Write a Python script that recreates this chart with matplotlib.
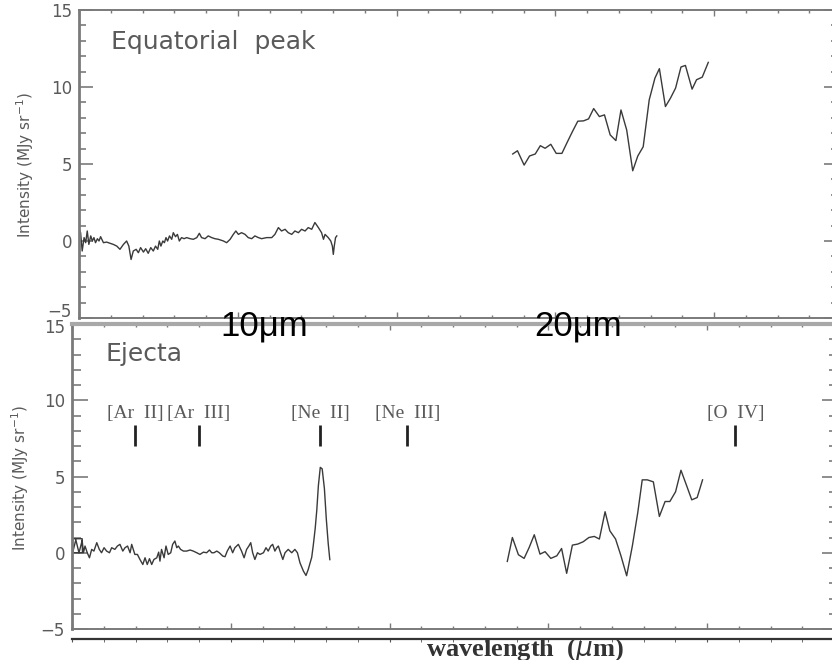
import matplotlib
matplotlib.use("Agg")
import matplotlib.pyplot as plt
from matplotlib.ticker import MultipleLocator

# ---------------- data ----------------
# Equatorial peak: short-wavelength module (um, MJy/sr)
eq_short_wave = [5.00, 5.05, 5.10, 5.16, 5.21, 5.26, 5.31, 5.37, 5.42, 5.47, 5.52, 5.58, 5.63, 5.68,
                 5.77, 5.87, 5.98, 6.08, 6.19, 6.29, 6.40, 6.50, 6.57, 6.64, 6.71, 6.80, 6.87, 6.94,
                 7.03, 7.10, 7.18, 7.26, 7.34, 7.41, 7.48, 7.53, 7.58, 7.64, 7.69, 7.74, 7.79, 7.85,
                 7.92, 7.97, 8.04, 8.10, 8.16, 8.23, 8.31, 8.39, 8.50, 8.60, 8.71, 8.79, 8.86, 8.97,
                 9.07, 9.18, 9.28, 9.39, 9.55, 9.65, 9.76, 9.86, 9.94, 10.02, 10.12, 10.23, 10.33,
                 10.44, 10.54, 10.65, 10.75, 10.91, 11.07, 11.17, 11.28, 11.38, 11.49, 11.59, 11.70,
                 11.80, 11.91, 12.01, 12.12, 12.22, 12.33, 12.43, 12.54, 12.64, 12.70, 12.75, 12.85,
                 12.93, 12.98, 13.01, 13.04, 13.08, 13.12]
eq_short_flux = [0.80, 0.54, -0.65, 0.22, -0.11, 0.65, -0.22, 0.33, 0.00, 0.22, -0.11, 0.15, 0.00, 0.28,
                 -0.11, -0.07, -0.15, -0.22, -0.33, -0.54, -0.22, 0.00, -0.33, -1.20, -0.65, -0.54, -0.76,
                 -0.43, -0.72, -0.50, -0.80, -0.43, -0.65, -0.33, -0.54, 0.00, -0.33, 0.00, -0.11, 0.22,
                 0.00, 0.33, 0.11, 0.54, 0.28, 0.43, 0.00, 0.22, 0.15, 0.22, 0.15, 0.11, 0.22, 0.50, 0.22,
                 0.15, 0.33, 0.22, 0.15, 0.11, 0.00, -0.11, 0.11, 0.43, 0.65, 0.43, 0.54, 0.43, 0.22,
                 0.15, 0.33, 0.22, 0.15, 0.22, 0.22, 0.43, 0.87, 0.65, 0.76, 0.54, 0.43, 0.65, 0.54,
                 0.76, 0.65, 0.87, 0.76, 1.20, 0.87, 0.54, 0.11, 0.43, 0.22, 0.00, -0.33, -0.87, -0.33,
                 0.22, 0.33]

# Equatorial peak: long-wavelength module
eq_long_wave = [18.66, 18.81, 19.02, 19.19, 19.37, 19.53, 19.68, 19.86, 20.03, 20.21, 20.36, 20.54,
                20.71, 20.89, 21.05, 21.21, 21.39, 21.55, 21.73, 21.91, 22.07, 22.25, 22.44, 22.60,
                22.77, 22.96, 23.14, 23.28, 23.47, 23.63, 23.79, 23.96, 24.10, 24.31, 24.45, 24.63,
                24.82]
eq_long_flux = [5.65, 5.86, 4.93, 5.52, 5.65, 6.19, 6.02, 6.28, 5.69, 5.69, 6.34, 7.10, 7.78, 7.80,
                7.93, 8.60, 8.08, 8.19, 6.89, 6.52, 8.51, 7.21, 4.56, 5.52, 6.12, 9.17, 10.58, 11.19,
                8.73, 9.28, 9.93, 11.30, 11.40, 9.86, 10.47, 10.64, 11.60]

# Ejecta: short-wavelength module
ej_short_wave = [5.02, 5.02, 5.32, 5.33, 5.02, 5.12, 5.22, 5.32, 5.36, 5.41, 5.48, 5.55, 5.62, 5.69,
                 5.78, 5.86, 5.93, 6.01, 6.09, 6.18, 6.25, 6.35, 6.43, 6.51, 6.60, 6.67, 6.75, 6.83,
                 6.88, 6.93, 6.98, 7.06, 7.14, 7.23, 7.30, 7.37, 7.44, 7.51, 7.58, 7.67, 7.73, 7.77,
                 7.82, 7.90, 7.96, 8.03, 8.11, 8.17, 8.24, 8.30, 8.35, 8.42, 8.51, 8.61, 8.72, 8.82,
                 8.93, 9.03, 9.14, 9.24, 9.33, 9.40, 9.47, 9.56, 9.64, 9.75, 9.82, 9.89, 9.98, 10.06,
                 10.13, 10.24, 10.34, 10.42, 10.50, 10.57, 10.63, 10.69, 10.76, 10.84, 10.92, 11.03,
                 11.11, 11.18, 11.26, 11.32, 11.39, 11.45, 11.50, 11.55, 11.64, 11.71, 11.81, 11.92,
                 12.02, 12.10, 12.18, 12.29, 12.37, 12.44, 12.55, 12.60, 12.66, 12.71, 12.76, 12.82,
                 12.88, 12.95, 13.01, 13.07, 13.12]
ej_short_flux = [0.00, 0.92, 0.92, 0.00, 0.00, 0.85, 0.00, 0.80, 0.00, 0.44, 0.00, -0.33, 0.22, 0.11,
                 0.66, 0.22, 0.00, 0.33, 0.11, 0.00, 0.33, 0.22, 0.44, 0.55, 0.11, 0.33, 0.44, 0.00,
                 0.55, 0.22, -0.11, -0.11, -0.44, -0.77, -0.33, -0.77, -0.39, -0.77, -0.44, -0.33, 0.04,
                 -0.55, 0.22, -0.33, 0.44, -0.11, 0.00, 0.55, 0.77, 0.33, 0.44, 0.22, 0.11, 0.11, 0.18,
                 0.11, 0.00, -0.11, 0.04, 0.00, 0.18, 0.00, 0.00, 0.11, 0.00, -0.22, -0.26, 0.11, 0.44,
                 0.00, 0.33, 0.55, 0.11, -0.33, 0.22, 0.44, 0.66, 0.00, -0.44, 0.00, -0.11, 0.00, 0.33,
                 0.11, 0.44, 0.55, 0.11, 0.33, 0.44, 0.11, -0.44, 0.00, 0.22, 0.00, 0.22, 0.00, -0.66,
                 -1.21, -1.49, -1.10, -0.30, 0.50, 1.60, 2.80, 4.40, 5.60, 5.50, 4.20, 2.20, 0.60,
                 -0.45]

# Ejecta: long-wavelength module
ej_long_wave = [18.71, 18.87, 19.06, 19.24, 19.40, 19.56, 19.74, 19.90, 20.08, 20.27, 20.42, 20.58,
                20.76, 20.93, 21.10, 21.28, 21.45, 21.61, 21.79, 21.94, 22.12, 22.29, 22.47, 22.65,
                22.82, 22.96, 23.12, 23.31, 23.50, 23.68, 23.83, 24.01, 24.18, 24.36, 24.52, 24.69,
                24.86]
ej_long_flux = [-0.57, 1.00, -0.13, -0.37, 0.35, 1.18, -0.09, 0.07, -0.37, -0.20, 0.28, -1.35, 0.50,
                0.57, 0.72, 1.00, 1.07, 0.90, 2.69, 1.44, 0.90, -0.20, -1.51, 0.46, 2.64, 4.78, 4.78,
                4.65, 2.38, 3.36, 3.36, 4.00, 5.41, 4.39, 3.47, 3.62, 4.78]

# Fine-structure lines marked on the ejecta spectrum
line_names = ["[Ar  II]", "[Ar  III]", "[Ne  II]", "[Ne  III]", "[O  IV]"]
line_waves = [6.99, 8.99, 12.81, 15.56, 25.89]

y_ticks = [-5, 0, 5, 10, 15]
top_tick_labels = ["", "0", "5", "10", "15"]
bottom_tick_labels = ["\u22125", "0", "5", "10", ""]

# ---------------- figure ----------------
W, H = 832, 660
fig = plt.figure(figsize=(W / 100, H / 100), dpi=100)

PX_PER_UM = 31.75
SPINE = "#7a7a7a"
TXT = "#5a5a5a"
DATA = "#3a3a3a"


def add_px_axes(left, right, top, bottom):
    return fig.add_axes([left / W, 1 - bottom / H, (right - left) / W, (bottom - top) / H])


def style_panel(ax, left, right, labels, ymaj, ymin, rmaj, rmin):
    ax.set_xlim(5, 5 + (right - left) / PX_PER_UM)
    ax.set_ylim(-5, 15)
    ax.xaxis.set_major_locator(MultipleLocator(5))
    ax.xaxis.set_minor_locator(MultipleLocator(1))
    ax.set_yticks(y_ticks)
    ax.set_yticklabels(labels)
    ax.yaxis.set_minor_locator(MultipleLocator(1))
    ax.tick_params(axis="x", which="both", top=True, bottom=True, direction="in",
                   labelbottom=False, color=SPINE, width=1)
    ax.tick_params(axis="x", which="major", length=4.5)
    ax.tick_params(axis="x", which="minor", length=2.2)
    ax.tick_params(axis="y", which="both", left=True, right=False, direction="in",
                   color=SPINE, width=1.2, labelsize=12, labelcolor=TXT, pad=5)
    ax.tick_params(axis="y", which="major", length=ymaj)
    ax.tick_params(axis="y", which="minor", length=ymin)
    for s in ax.spines.values():
        s.set_color(SPINE)
        s.set_linewidth(1.4)
    ax.spines["left"].set_linewidth(2.0)
    sec = ax.secondary_yaxis("right")
    sec.set_yticks(y_ticks)
    sec.yaxis.set_minor_locator(MultipleLocator(1))
    sec.tick_params(axis="y", which="both", direction="in", labelright=False,
                    color=SPINE, width=1.2)
    sec.tick_params(axis="y", which="major", length=rmaj)
    sec.tick_params(axis="y", which="minor", length=rmin)
    sec.spines["right"].set_color(SPINE)


# Upper panel: equatorial peak
ax1 = add_px_axes(79, 834, 10, 318)
style_panel(ax1, 79, 834, top_tick_labels, 10, 5, 7, 2.5)
ax1.plot(eq_short_wave, eq_short_flux, color=DATA, lw=1.0)
ax1.plot(eq_long_wave, eq_long_flux, color=DATA, lw=1.0)
ax1.text(6.0, 12.9, "Equatorial  peak", fontsize=18, color=TXT, va="center", ha="left")

# Lower panel: ejecta
ax2 = add_px_axes(72, 833, 324, 629)
style_panel(ax2, 72, 833, bottom_tick_labels, 11.5, 6.5, 8, 3)
ax2.spines["top"].set_color("#a8a8a8")
ax2.spines["top"].set_linewidth(3.0)
ax2.patch.set_alpha(0)
ax2.plot(ej_short_wave, ej_short_flux, color=DATA, lw=1.0)
ax2.plot(ej_long_wave, ej_long_flux, color=DATA, lw=1.0)
ax2.text(6.04, 13.0, "Ejecta", fontsize=18, color=TXT, va="center", ha="left")
ax2.vlines(line_waves, 7.0, 8.4, color="#222222", lw=2.0)
for name, wl in zip(line_names, line_waves):
    ax2.text(wl, 9.15, name, fontsize=14, family="Liberation Serif", color=TXT,
             ha="center", va="center")

# Edge tick labels where the two panels meet
fig.text(72 / W, 1 - 312 / H, "\u22125", fontsize=12, color=TXT, ha="right", va="center")
fig.text(65 / W, 1 - 328 / H, "15", fontsize=12, color=TXT, ha="right", va="center")

fig.text(25 / W, 1 - 165 / H, "Intensity (MJy sr$^{-1}$)", rotation=90, fontsize=11,
         color=TXT, ha="center", va="center")
fig.text(20 / W, 1 - 478 / H, "Intensity (MJy sr$^{-1}$)", rotation=90, fontsize=11,
         color=TXT, ha="center", va="center")

# Partial axis frame of the panel below
ax3 = add_px_axes(72, 833, 639, 720)
ax3.set_xlim(5, 5 + (833 - 72) / PX_PER_UM)
ax3.xaxis.set_major_locator(MultipleLocator(5))
ax3.xaxis.set_minor_locator(MultipleLocator(1))
ax3.set_yticks([])
for side in ("left", "right", "bottom"):
    ax3.spines[side].set_visible(False)
ax3.spines["top"].set_color("#333333")
ax3.spines["top"].set_linewidth(1.6)
ax3.tick_params(axis="x", which="both", top=True, bottom=False, direction="in",
                labelbottom=False, color="#555555", length=2)
ax3.patch.set_alpha(0)

fig.text(525 / W, 1 - 656 / H, "wavelength  ($\\mu$m)", fontsize=19, family="Liberation Serif",
         weight="bold", color="#333333", ha="center", va="baseline")

# Wavelength markers over the panel boundary
fig.text(264 / W, 1 - 335 / H, "10\u03bcm", fontsize=25, family="Liberation Sans",
         color="black", ha="center", va="baseline")
fig.text(578 / W, 1 - 335 / H, "20\u03bcm", fontsize=25, family="Liberation Sans",
         color="black", ha="center", va="baseline")

fig.savefig("out.png", dpi=100)
